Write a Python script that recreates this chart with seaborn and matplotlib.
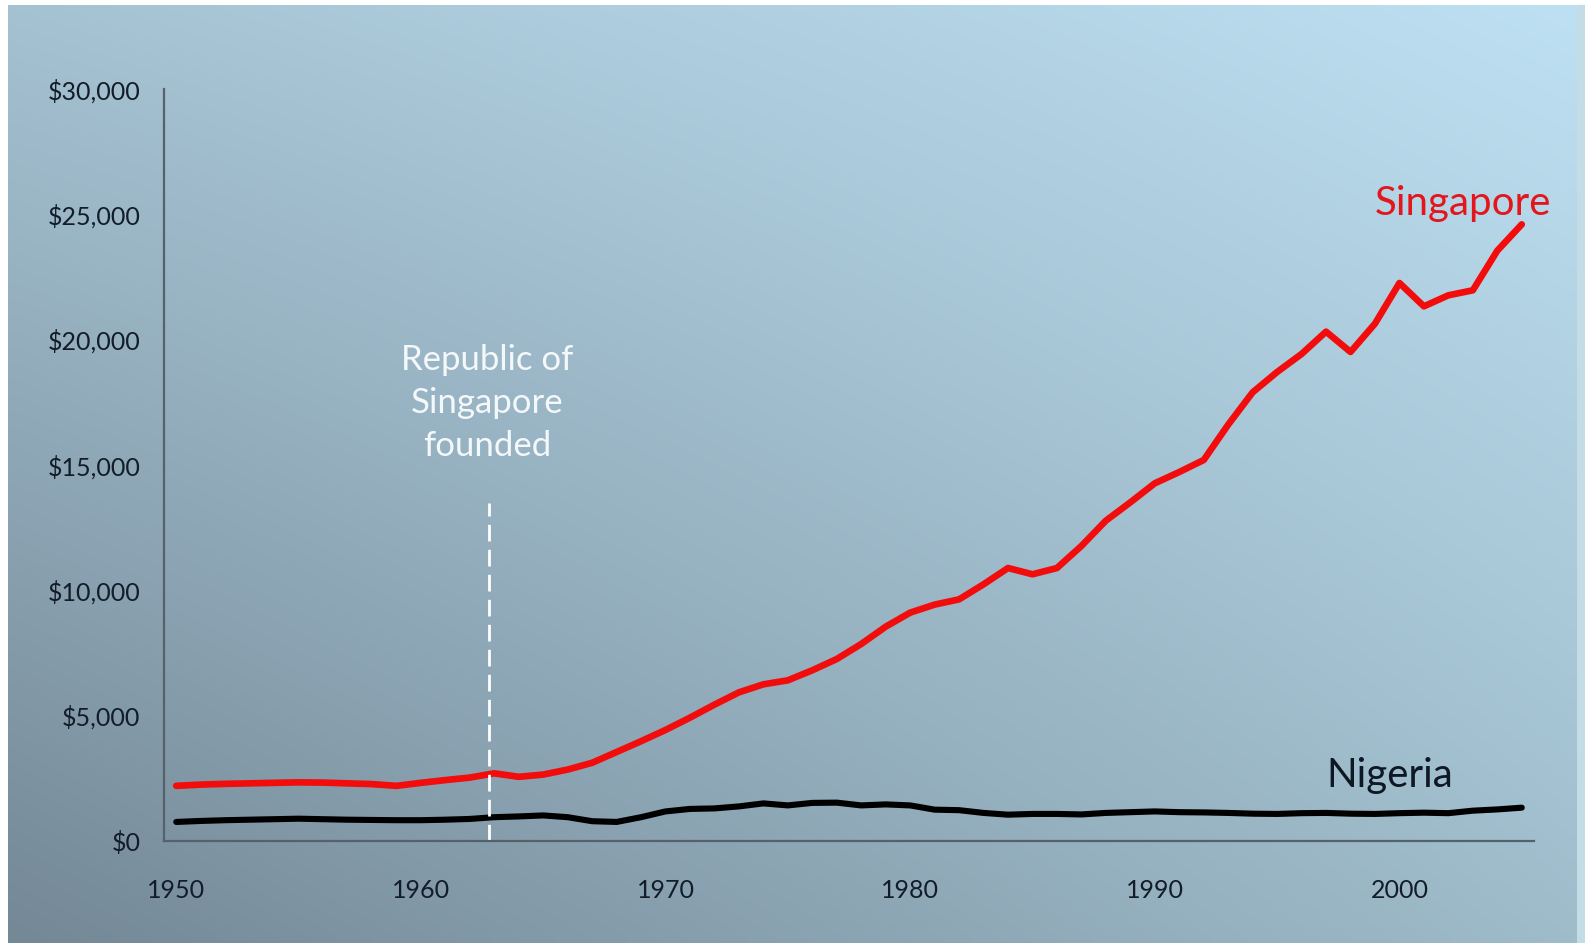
import numpy as np
import pandas as pd
import matplotlib
matplotlib.use("Agg")
import matplotlib.pyplot as plt
from matplotlib.ticker import FixedLocator, FixedFormatter
import seaborn as sns

sns.set_style("white")
plt.rcParams["font.family"] = ["Lato", "DejaVu Sans"]

# GDP per capita, 1950-2005
years = list(range(1950, 2006))
singapore = [
    2200, 2250, 2280, 2300, 2320, 2340, 2330, 2300, 2270, 2200,
    2320, 2430, 2530, 2700, 2560, 2650, 2850, 3120, 3550, 3980,
    4430, 4920, 5440, 5930, 6250, 6410, 6810, 7260, 7860, 8550,
    9110, 9430, 9640, 10240, 10890, 10640, 10890, 11770, 12780, 13510,
    14270, 14720, 15200, 16610, 17900, 18710, 19430, 20320, 19510, 20640,
    22260, 21330, 21770, 21970, 23550, 24600,
]
nigeria = [
    760, 800, 830, 850, 870, 890, 870, 850, 840, 830,
    830, 850, 880, 950, 980, 1020, 950, 790, 760, 950,
    1180, 1280, 1300, 1380, 1500, 1420, 1520, 1530, 1420, 1460,
    1420, 1250, 1230, 1120, 1050, 1080, 1080, 1060, 1120, 1150,
    1180, 1150, 1140, 1120, 1090, 1080, 1110, 1120, 1090, 1080,
    1110, 1130, 1110, 1210, 1260, 1330,
]
ytick_values = [0, 5000, 10000, 15000, 20000, 25000, 30000]
ytick_labels = ["$0", "$5,000", "$10,000", "$15,000", "$20,000", "$25,000", "$30,000"]
xtick_values = [1950, 1960, 1970, 1980, 1990, 2000]
founded_year = 1962.8
founded_top = 13500

df = pd.DataFrame({"year": years, "Singapore": singapore, "Nigeria": nigeria})

W, H = 1585, 943
fig = plt.figure(figsize=(W / 100, H / 100), dpi=100)
fig.patch.set_facecolor("white")

# gradient background: dark slate bottom-left to light blue top-right
bg = fig.add_axes([8 / W, 0, 1 - 16 / W, 1 - 5 / H])
bg.set_axis_off()
tl = np.array([0xa5, 0xc2, 0xd2]) / 255
tr = np.array([0xbd, 0xe0, 0xf2]) / 255
bl = np.array([0x74, 0x88, 0x96]) / 255
br = np.array([0x9f, 0xbc, 0xcb]) / 255
u = np.linspace(0, 1, 200)[None, :, None]
v = np.linspace(0, 1, 120)[:, None, None]
grad = (1 - v) * ((1 - u) * tl + u * tr) + v * ((1 - u) * bl + u * br)
bg.imshow(grad, aspect="auto", extent=[0, 1, 0, 1], interpolation="bilinear")
# lighter strip on the right edge
fig.add_artist(plt.Rectangle((1 - 8 / W, 0), 8 / W, 1 - 5 / H,
                             transform=fig.transFigure, color="#c4dce6", zorder=-1))

ax = fig.add_axes([164 / W, 1 - 841 / H, (1534 - 164) / W, (841 - 89) / H])
ax.patch.set_alpha(0)

sns.lineplot(data=df, x="year", y="Singapore", ax=ax, color="#f20c0c", lw=4.8)
sns.lineplot(data=df, x="year", y="Nigeria", ax=ax, color="black", lw=4.4)

ax.vlines(founded_year, 0, founded_top, color="white", lw=2, linestyles=(0, (6, 3)))

ax.set_xlim(1949.5, 2005.5)
ax.set_ylim(0, 30000)
ax.set_xlabel("")
ax.set_ylabel("")

spine_color = "#56616b"
for side in ["top", "right"]:
    ax.spines[side].set_visible(False)
for side in ["left", "bottom"]:
    ax.spines[side].set_color(spine_color)
    ax.spines[side].set_linewidth(1.6)

ax.yaxis.set_major_locator(FixedLocator(ytick_values))
ax.yaxis.set_major_formatter(FixedFormatter(ytick_labels))
ax.xaxis.set_major_locator(FixedLocator(xtick_values))
ax.xaxis.set_minor_locator(FixedLocator(np.arange(1949.5, 2006, 5)))
ax.tick_params(axis="y", which="major", direction="out", length=5, width=1.3,
               color=spine_color, pad=12, labelsize=18, labelcolor="#121d29")
ax.tick_params(axis="x", which="major", length=0, pad=27, labelsize=18,
               labelcolor="#121d29")
ax.tick_params(axis="x", which="minor", direction="out", length=4, width=1,
               color=spine_color)

ax.text(1962.7, 17460, "Republic of\nSingapore\nfounded", color="#f4f8fa",
        fontsize=25, ha="center", va="center", linespacing=1.42)
ax.text(2002.6, 25420, "Singapore", color="#e3161c", fontsize=29,
        ha="center", va="center")
ax.text(1999.6, 2620, "Nigeria", color="#0d1824", fontsize=29,
        ha="center", va="center")

fig.savefig("out.png", dpi=100)
